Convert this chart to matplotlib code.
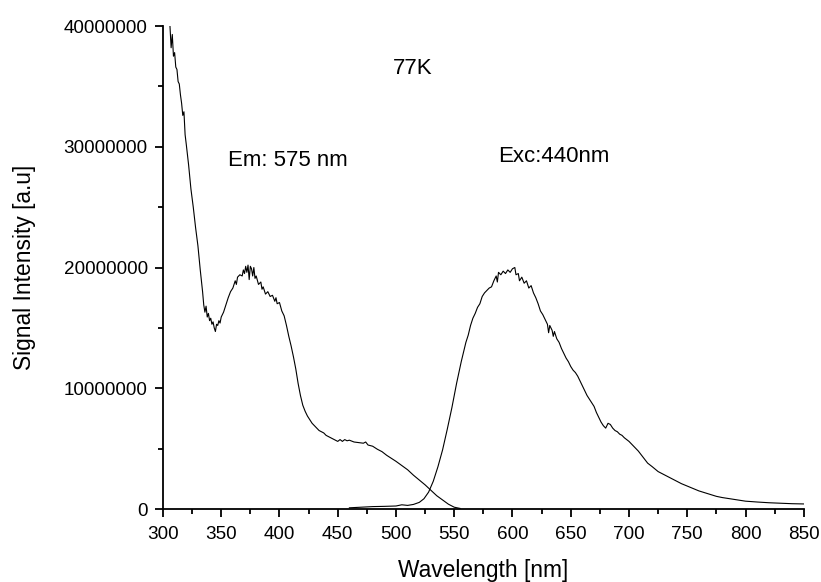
import matplotlib.pyplot as plt
from matplotlib.ticker import MultipleLocator, FuncFormatter

plt.rcParams['font.family'] = ['Liberation Sans', 'DejaVu Sans']

# excitation spectrum (Em: 575 nm), wavelength in nm, intensity in millions
exc_wl = [306, 307, 308, 309, 310, 311, 312, 313, 314, 315, 316, 317, 318, 319, 320,
          322, 324, 326, 328, 330, 332, 334, 335, 336, 337, 338, 339, 340, 341, 342,
          343, 344, 345, 346, 347, 348, 349, 350, 352, 354, 356, 358, 360, 362, 363,
          364, 366, 368, 369, 370, 371, 372, 373, 374, 375, 376, 377, 378, 379, 380,
          382, 384, 385, 386, 388, 390, 392, 394, 396, 397, 398, 400, 402, 404, 406,
          408, 410, 412, 414, 416, 418, 420, 422, 424, 426, 428, 430, 432, 434, 436,
          438, 440, 442, 444, 446, 448, 450, 452, 454, 456, 458, 460, 464, 468, 472,
          474, 476, 480, 484, 488, 492, 496, 500, 505, 510, 515, 520, 525, 530, 535,
          540, 545, 550, 555]
exc_val = [40.0, 38.2, 39.3, 37.5, 37.8, 36.6, 36.4, 35.4, 35.2, 34.3, 33.6, 32.6, 32.9, 31.0, 30.2,
           28.5, 26.5, 25.0, 23.3, 21.8, 19.8, 18.0, 16.9, 16.3, 16.8, 15.9, 16.2, 15.6, 15.8, 15.3,
           15.5, 15.0, 14.7, 15.3, 15.2, 15.6, 15.4, 15.9, 16.3, 16.9, 17.5, 18.0, 18.3, 18.9, 18.6,
           19.2, 19.4, 19.3, 19.8, 19.5, 20.1, 19.6, 20.2, 19.0, 20.1, 19.9, 19.3, 20.0, 19.1, 19.3,
           18.6, 18.8, 18.2, 18.4, 17.8, 18.0, 17.6, 17.7, 17.2, 17.5, 17.0, 17.1, 16.4, 16.0, 15.2,
           14.3, 13.5, 12.6, 11.6, 10.4, 9.4, 8.6, 8.1, 7.7, 7.4, 7.1, 6.9, 6.7, 6.5, 6.4,
           6.3, 6.1, 6.0, 5.9, 5.8, 5.7, 5.6, 5.75, 5.6, 5.75, 5.65, 5.7, 5.55, 5.5, 5.45,
           5.55, 5.3, 5.2, 4.95, 4.75, 4.45, 4.2, 3.95, 3.6, 3.25, 2.8, 2.4, 2.0, 1.55, 1.1,
           0.75, 0.4, 0.15, 0.05]

# emission spectrum (Exc: 440 nm)
em_wl = [460, 470, 480, 490, 500, 505, 510, 515, 520, 524, 528, 532, 536, 540, 544,
         548, 552, 556, 558, 560, 562, 564, 566, 568, 570, 572, 574, 576, 578, 580,
         582, 584, 586, 587, 588, 590, 592, 594, 596, 598, 600, 602, 603, 605, 606,
         608, 610, 612, 614, 616, 618, 620, 622, 624, 626, 628, 630, 631, 632, 634,
         635, 636, 638, 640, 642, 644, 646, 648, 650, 652, 654, 656, 658, 660, 662,
         664, 666, 668, 670, 672, 674, 676, 678, 680, 682, 684, 686, 688, 690, 692,
         694, 696, 700, 704, 708, 712, 716, 720, 725, 730, 735, 740, 745, 750, 755,
         760, 765, 770, 775, 780, 790, 800, 810, 820, 830, 840, 850]
em_val = [0.1, 0.15, 0.2, 0.22, 0.25, 0.35, 0.3, 0.38, 0.55, 0.85, 1.4, 2.3, 3.5, 4.9, 6.6,
          8.4, 10.4, 12.2, 13.0, 13.8, 14.4, 15.2, 15.8, 16.2, 16.7, 17.0, 17.6, 17.9, 18.1, 18.3,
          18.4, 18.9, 19.3, 18.8, 19.6, 19.4, 19.7, 19.5, 19.8, 19.6, 19.9, 20.0, 19.4, 19.5, 18.9,
          19.2, 18.7, 18.9, 18.3, 18.5, 17.9, 17.5, 17.0, 16.4, 16.1, 15.7, 15.3, 14.6, 15.2, 14.8,
          14.3, 14.7, 14.1, 13.8, 13.3, 12.9, 12.5, 12.2, 11.8, 11.5, 11.3, 11.0, 10.6, 10.2, 9.8,
          9.4, 9.1, 8.8, 8.5, 8.0, 7.6, 7.2, 6.9, 6.7, 7.1, 7.0, 6.7, 6.5, 6.4, 6.2,
          6.1, 5.9, 5.6, 5.2, 4.8, 4.3, 3.8, 3.5, 3.1, 2.85, 2.6, 2.35, 2.1, 1.9, 1.7,
          1.5, 1.35, 1.2, 1.05, 0.95, 0.8, 0.65, 0.58, 0.52, 0.48, 0.44, 0.42]

fig = plt.figure(figsize=(8.21, 5.82), dpi=100)
ax = fig.add_axes([0.1985, 0.1254, 0.7805, 0.8299])

ax.plot(exc_wl, [v * 1e6 for v in exc_val], color='black', linewidth=0.8)
ax.plot(em_wl, [v * 1e6 for v in em_val], color='black', linewidth=0.8)

ax.set_xlim(300, 850)
ax.set_ylim(0, 40000000)
ax.xaxis.set_major_locator(MultipleLocator(50))
ax.xaxis.set_minor_locator(MultipleLocator(25))
ax.yaxis.set_major_locator(MultipleLocator(10000000))
ax.yaxis.set_minor_locator(MultipleLocator(5000000))
ax.yaxis.set_major_formatter(FuncFormatter(lambda v, p: '%d' % v))

for side in ['top', 'right']:
    ax.spines[side].set_visible(False)
for side in ['left', 'bottom']:
    ax.spines[side].set_linewidth(1.3)
ax.tick_params(which='major', direction='out', length=6, width=1.3, labelsize=13.6)
ax.tick_params(axis='x', which='major', pad=6)
ax.tick_params(axis='y', which='major', pad=5)
ax.tick_params(which='minor', direction='out', length=3.5, width=1.3)

ax.set_xlabel('Wavelength [nm]', fontsize=16.4, labelpad=12)
ax.set_ylabel('Signal Intensity [a.u]', fontsize=16.4, labelpad=20)

ax.text(514, 36500000, '77K', fontsize=16, ha='center', va='center')
ax.text(356, 28900000, 'Em: 575 nm', fontsize=16, va='center')
ax.text(588, 29200000, 'Exc:440nm', fontsize=16, va='center')

fig.savefig('out.png', dpi=100)
